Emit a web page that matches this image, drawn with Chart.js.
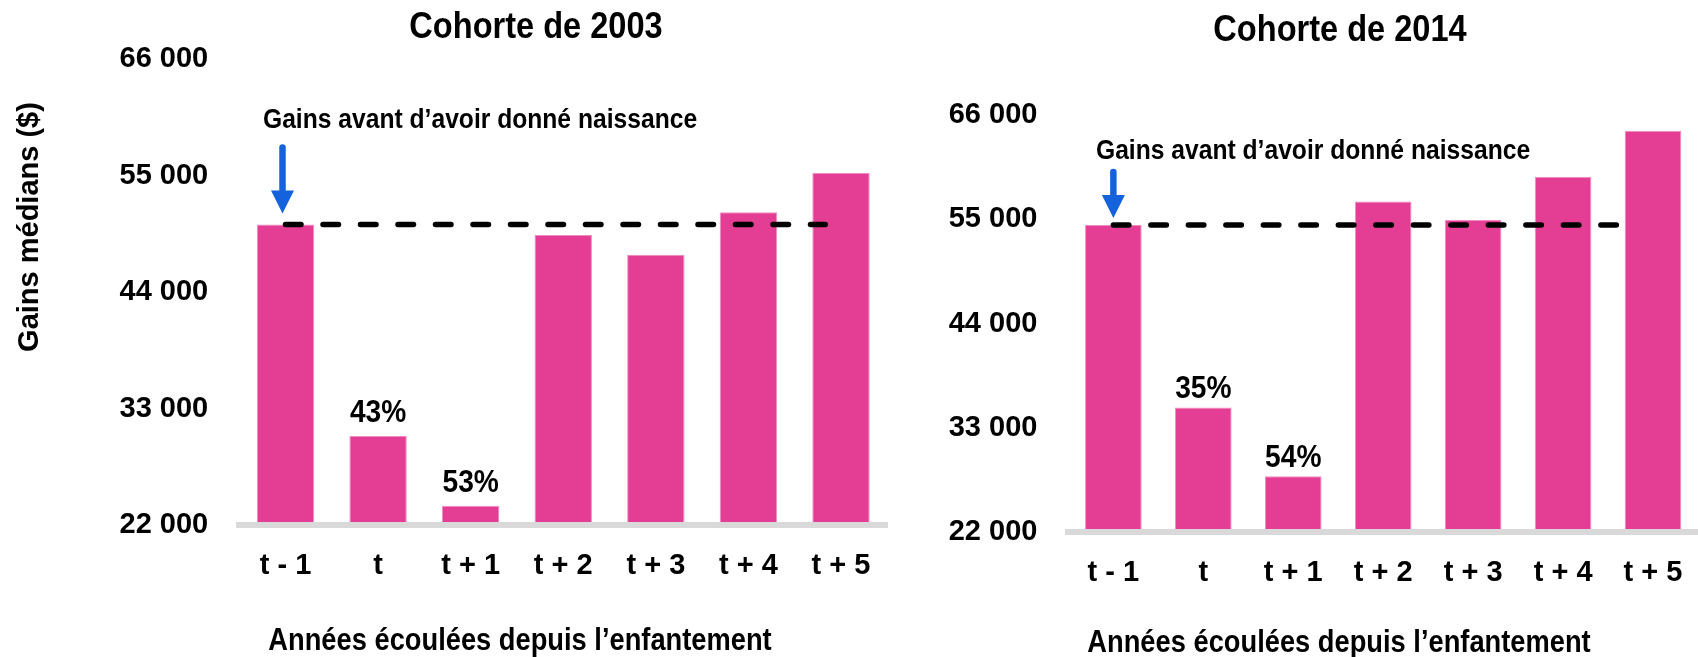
<!DOCTYPE html>
<html>
<head>
<meta charset="utf-8">
<script src="https://cdn.jsdelivr.net/npm/chart.js@4"></script>
<style>
    html, body { margin: 0; padding: 0; background: #fff; overflow: hidden; }
    .box { position: absolute; top: 0; height: 657px; }
    #box2003 { left: 0; width: 940px; }
    #box2014 { left: 900px; width: 798px; }
</style>
</head>
<body>
<div class="box" id="box2003"><canvas id="chart2003"></canvas></div>
<div class="box" id="box2014"><canvas id="chart2014"></canvas></div>
<script>
(function () {
    'use strict';

    // data
    var periods = ['t - 1', 't', 't + 1', 't + 2', 't + 3', 't + 4', 't + 5'];
    var yMin = 22000;
    var yMax = 66000;
    var yStep = 11000;
    var gains2003 = [50370, 30400, 23820, 49380, 47520, 51520, 55240];
    var gains2014 = [54390, 35130, 27880, 56870, 54920, 59480, 64340];
    var pct2003 = ['', '43%', '53%', '', '', '', ''];
    var pct2014 = ['', '35%', '54%', '', '', '', ''];
    var before2003 = 50370;
    var before2014 = 54390;
    var lineEnd2003 = 5.83;
    var lineEnd2014 = 5.74;

    var FONT = "'Liberation Sans', Arial, sans-serif";
    var PINK = '#E43D94';
    var NARROW_X = 0.88; // the source uses a condensed face

    function fmt(v) {
        return String(v).replace(/\B(?=(\d{3})+(?!\d))/g, ' ');
    }

    function drawText(ctx, text, x, y, font, align, rotate) {
        ctx.save();
        ctx.font = font;
        ctx.fillStyle = '#000';
        ctx.textAlign = align || 'center';
        ctx.textBaseline = 'middle';
        ctx.translate(x, y);
        if (rotate) {
            ctx.rotate(rotate);
        } else {
            ctx.scale(NARROW_X, 1);
        }
        ctx.fillText(text, 0, 0);
        ctx.restore();
    }

    var textPlugin = {
        id: 'texts',
        afterDraw: function (chart, args, opts) {
            (opts.items || []).forEach(function (t) {
                drawText(chart.ctx, t.text, t.x, t.y, t.font, t.align, t.rotate);
            });
        }
    };

    var arrowPlugin = {
        id: 'arrow',
        afterDatasetsDraw: function (chart, args, opts) {
            var ctx = chart.ctx;
            var x = chart.scales.x.getPixelForValue(0) + (opts.dx || 0);
            var yLine = chart.scales.y.getPixelForValue(opts.value);
            var top = yLine - opts.top;
            var tip = yLine - opts.tip;
            ctx.save();
            ctx.strokeStyle = '#1462DC';
            ctx.fillStyle = '#1462DC';
            ctx.lineWidth = 6.5;
            ctx.lineCap = 'round';
            ctx.beginPath();
            ctx.moveTo(x, top);
            ctx.lineTo(x, tip - 20);
            ctx.stroke();
            ctx.beginPath();
            ctx.moveTo(x - 11.5, tip - 23);
            ctx.lineTo(x + 11.5, tip - 23);
            ctx.lineTo(x, tip);
            ctx.closePath();
            ctx.fill();
            ctx.restore();
        }
    };

    var pctPlugin = {
        id: 'pct',
        afterDatasetsDraw: function (chart, args, opts) {
            var meta = chart.getDatasetMeta(1);
            opts.labels.forEach(function (lab, i) {
                if (!lab) return;
                var bar = meta.data[i];
                drawText(chart.ctx, lab, bar.x, bar.y - opts.gap, 'bold 32px ' + FONT, 'center');
            });
        }
    };

    function makeChart(el, cfg) {
        return new Chart(el, {
            type: 'bar',
            data: {
                labels: periods,
                datasets: [
                    {
                        type: 'line',
                        data: [{ x: 0, y: cfg.before }, { x: cfg.lineEnd, y: cfg.before }],
                        xAxisID: 'xl',
                        borderColor: '#000',
                        borderWidth: 5.5,
                        borderDash: [15.5, 22],
                        borderCapStyle: 'round',
                        pointRadius: 0,
                        fill: false,
                        order: 0
                    },
                    {
                        type: 'bar',
                        data: cfg.values,
                        xAxisID: 'x',
                        backgroundColor: PINK,
                        borderColor: '#F08CC1',
                        borderWidth: 1,
                        grouped: false,
                        barPercentage: cfg.barPct,
                        categoryPercentage: 1,
                        order: 1
                    }
                ]
            },
            options: {
                responsive: true,
                maintainAspectRatio: false,
                animation: false,
                layout: { padding: { top: cfg.top, right: cfg.right, bottom: 0, left: 0 } },
                plugins: {
                    legend: { display: false },
                    tooltip: { enabled: false },
                    texts: { items: cfg.texts },
                    arrow: cfg.arrow,
                    pct: { labels: cfg.pct, gap: cfg.pctGap }
                },
                scales: {
                    x: {
                        type: 'category',
                        grid: { display: false, drawTicks: false },
                        border: { display: true, color: '#D9D9D9', width: 6, z: 1 },
                        ticks: { color: '#000', padding: 24, font: { family: FONT, size: 29, weight: 'bold' } },
                        afterFit: function (s) {
                            s.height = 657 - cfg.bottom;
                            s.paddingLeft = 0;
                            s.paddingRight = 0;
                        }
                    },
                    xl: {
                        type: 'linear',
                        display: false,
                        offset: false,
                        bounds: 'data',
                        min: -0.5,
                        max: periods.length - 0.5
                    },
                    y: {
                        min: yMin,
                        max: yMax,
                        grid: { display: false, drawTicks: false },
                        border: { display: false },
                        ticks: {
                            stepSize: yStep,
                            color: '#000',
                            padding: 31,
                            font: { family: FONT, size: 29, weight: 'bold' },
                            callback: function (v) { return fmt(v); }
                        },
                        afterFit: function (s) {
                            s.width = cfg.left;
                            s.paddingTop = 0;
                            s.paddingBottom = 0;
                        }
                    }
                }
            },
            plugins: [textPlugin, arrowPlugin, pctPlugin]
        });
    }

    makeChart(document.getElementById('chart2003'), {
        values: gains2003,
        before: before2003,
        lineEnd: lineEnd2003,
        pct: pct2003,
        pctGap: 23,
        barPct: 0.62,
        top: 59,
        bottom: 525,
        left: 239.2,
        right: 52.7,
        arrow: { value: before2003, top: 77, tip: 11, dx: -3 },
        texts: [
            { text: 'Cohorte de 2003', x: 536, y: 28, font: 'bold 37px ' + FONT },
            { text: 'Gains avant d\u2019avoir donn\u00e9 naissance', x: 263, y: 120, align: 'left', font: 'bold 28px ' + FONT },
            { text: 'Ann\u00e9es \u00e9coul\u00e9es depuis l\u2019enfantement', x: 520, y: 641, font: 'bold 31px ' + FONT },
            { text: 'Gains m\u00e9dians ($)', x: 30, y: 227, rotate: -Math.PI / 2, font: 'bold 29px ' + FONT }
        ]
    });

    makeChart(document.getElementById('chart2014'), {
        values: gains2014,
        before: before2014,
        lineEnd: lineEnd2014,
        pct: pct2014,
        pctGap: 18,
        barPct: 0.63,
        top: 115,
        bottom: 532,
        left: 168.4,
        right: 0,
        arrow: { value: before2014, top: 53, tip: 7, dx: 0 },
        texts: [
            { text: 'Cohorte de 2014', x: 440, y: 30.5, font: 'bold 37px ' + FONT },
            { text: 'Gains avant d\u2019avoir donn\u00e9 naissance', x: 196, y: 151, align: 'left', font: 'bold 28px ' + FONT },
            { text: 'Ann\u00e9es \u00e9coul\u00e9es depuis l\u2019enfantement', x: 439, y: 643, font: 'bold 31px ' + FONT }
        ]
    });
})();
</script>
</body>
</html>
